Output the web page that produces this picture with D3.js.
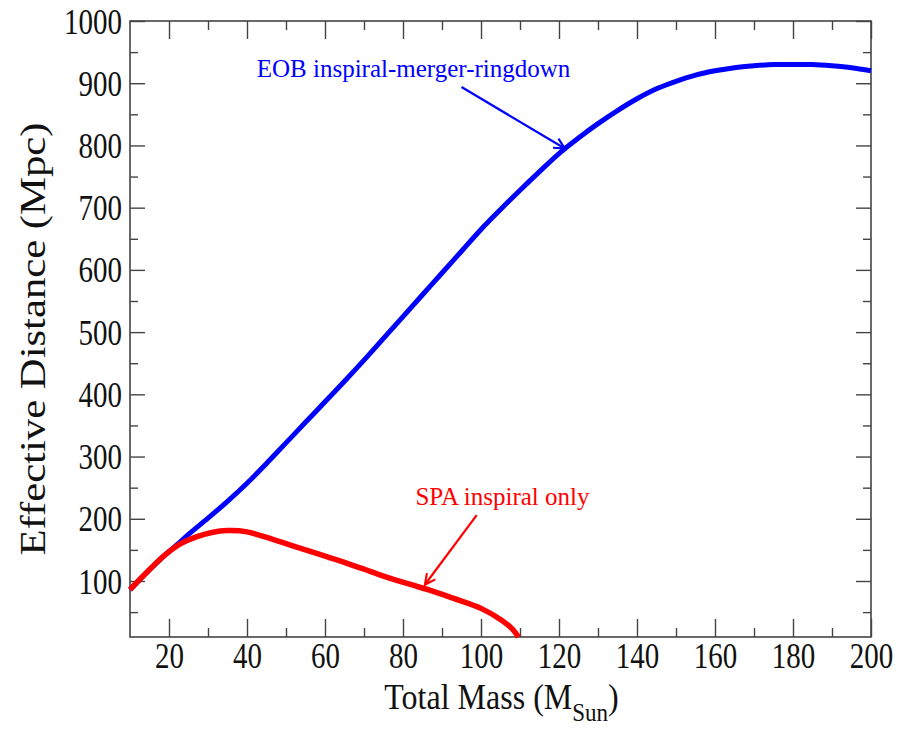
<!DOCTYPE html>
<html>
<head>
<meta charset="utf-8">
<script src="https://cdn.jsdelivr.net/npm/d3@7"></script>
<style>
  body { margin: 0; background: #fff; }
  svg text { font-family: "Liberation Serif", "DejaVu Serif", serif; }
</style>
</head>
<body>
<div id="chart"></div>
<script>
// data
var massEOB = [10, 14, 19, 22, 25, 30, 35, 40, 45, 50, 55, 60, 65, 70, 75, 80, 85, 90, 95, 100,
               105, 110, 115, 120, 125, 130, 135, 140, 145, 150, 155, 160, 165, 170, 175, 180, 185, 190, 195, 200];
var distEOB = [86, 112, 142, 158, 175, 201, 228, 257, 289, 322, 355, 388, 421, 455, 490, 525, 560, 595, 630, 665,
               697, 728, 758, 787, 812, 835, 856, 875, 891, 903, 913, 920, 925, 928, 930, 930, 930, 928, 925, 920];

var massSPA = [10, 14, 19, 23, 27, 31, 35, 40, 47, 55, 60, 64, 70, 75, 81, 87, 93, 100, 105, 108, 109.6];
var distSPA = [86, 112, 142, 160, 171, 178, 181, 179, 166, 150, 140, 132, 119, 108, 96, 85, 72, 56, 38, 23, 10];

var xTicks = [20, 40, 60, 80, 100, 120, 140, 160, 180, 200];
var xMinor = [30, 50, 70, 90, 110, 130, 150, 170, 190];
var yTicks = [100, 200, 300, 400, 500, 600, 700, 800, 900, 1000];
var yMinor = [50, 150, 250, 350, 450, 550, 650, 750, 850, 950];

var W = 907, H = 729;
var pLeft = 130, pRight = 871, pTop = 21, pBottom = 637;

var svg = d3.select("#chart").append("svg")
    .attr("width", W)
    .attr("height", H);

var x = d3.scaleLinear().domain([10, 200]).range([pLeft, pRight]);
var y = d3.scaleLinear().domain([10, 1000]).range([pBottom, pTop]);

var stretch = 1.22;   // the original picture is stretched vertically
var axisColor = "#444";

function styleAxis(g) {
    g.select(".domain").remove();
    g.selectAll("line").attr("stroke", axisColor).attr("stroke-width", 1.4);
}

// major + minor ticks, all pointing inward
svg.append("g").attr("transform", "translate(0," + pBottom + ")")
    .call(d3.axisBottom(x).tickValues(xTicks).tickSize(-18).tickFormat(""))
    .call(styleAxis);
svg.append("g").attr("transform", "translate(0," + pBottom + ")")
    .call(d3.axisBottom(x).tickValues(xMinor).tickSize(-9).tickFormat(""))
    .call(styleAxis);
svg.append("g").attr("transform", "translate(0," + pTop + ")")
    .call(d3.axisTop(x).tickValues(xTicks).tickSize(-18).tickFormat(""))
    .call(styleAxis);
svg.append("g").attr("transform", "translate(0," + pTop + ")")
    .call(d3.axisTop(x).tickValues(xMinor).tickSize(-9).tickFormat(""))
    .call(styleAxis);

svg.append("g").attr("transform", "translate(" + pLeft + ",0)")
    .call(d3.axisLeft(y).tickValues(yTicks).tickSize(-15).tickFormat(""))
    .call(styleAxis);
svg.append("g").attr("transform", "translate(" + pLeft + ",0)")
    .call(d3.axisLeft(y).tickValues(yMinor).tickSize(-8).tickFormat(""))
    .call(styleAxis);
svg.append("g").attr("transform", "translate(" + pRight + ",0)")
    .call(d3.axisRight(y).tickValues(yTicks).tickSize(-15).tickFormat(""))
    .call(styleAxis);
svg.append("g").attr("transform", "translate(" + pRight + ",0)")
    .call(d3.axisRight(y).tickValues(yMinor).tickSize(-8).tickFormat(""))
    .call(styleAxis);

// tick labels through the axes, then stretched like the original
var xLab = svg.append("g").attr("transform", "translate(0," + pBottom + ")")
    .call(d3.axisBottom(x).tickValues(xTicks).tickSize(0).tickFormat(d3.format("d")));
xLab.select(".domain").remove();
xLab.selectAll(".tick text")
    .attr("y", null).attr("dy", null)
    .attr("fill", "#111")
    .attr("font-size", 29)
    .attr("transform", "translate(0,31) scale(1," + stretch + ")");

var yLab = svg.append("g").attr("transform", "translate(" + pLeft + ",0)")
    .call(d3.axisLeft(y).tickValues(yTicks).tickSize(0).tickFormat(d3.format("d")));
yLab.select(".domain").remove();
yLab.selectAll(".tick text")
    .attr("x", null).attr("dy", null)
    .attr("fill", "#111")
    .attr("font-size", 29)
    .attr("transform", "translate(-8,12) scale(1," + stretch + ")");

// frame
svg.append("rect")
    .attr("x", pLeft).attr("y", pTop)
    .attr("width", pRight - pLeft).attr("height", pBottom - pTop)
    .attr("fill", "none")
    .attr("stroke", axisColor)
    .attr("stroke-width", 1.6);

// curves
var line = d3.line()
    .x(function(d) { return x(d[0]); })
    .y(function(d) { return y(d[1]); })
    .curve(d3.curveCatmullRom.alpha(0.5));

svg.append("path")
    .datum(d3.zip(massEOB, distEOB))
    .attr("d", line)
    .attr("fill", "none")
    .attr("stroke", "#0000ff")
    .attr("stroke-width", 5)
    .attr("stroke-linejoin", "round");

svg.append("path")
    .datum(d3.zip(massSPA, distSPA))
    .attr("d", line)
    .attr("fill", "none")
    .attr("stroke", "#ff0000")
    .attr("stroke-width", 5.5)
    .attr("stroke-linejoin", "round");

// annotations (anchored in data units)
var defs = svg.append("defs");
function arrowMarker(id, color) {
    defs.append("marker")
        .attr("id", id)
        .attr("viewBox", "0 0 10 10")
        .attr("refX", 9).attr("refY", 5)
        .attr("markerWidth", 6).attr("markerHeight", 6)
        .attr("markerUnits", "strokeWidth")
        .attr("orient", "auto")
        .append("path")
        .attr("d", "M1,1 L9,5 L1,9")
        .attr("fill", "none")
        .attr("stroke", color)
        .attr("stroke-width", 1.6);
}
arrowMarker("arrowBlue", "#0000ff");
arrowMarker("arrowRed", "#ff0000");

var eobLabel = { text: "EOB inspiral-merger-ringdown", m: 42.5, d: 910, from: [95, 894], to: [121.5, 795] };
var spaLabel = { text: "SPA inspiral only", m: 105.5, d: 222, from: [98.9, 206], to: [85.6, 94] };

svg.append("text")
    .attr("x", x(eobLabel.m)).attr("y", y(eobLabel.d))
    .attr("fill", "#0000ff")
    .attr("font-size", 25)
    .text(eobLabel.text);
svg.append("line")
    .attr("x1", x(eobLabel.from[0])).attr("y1", y(eobLabel.from[1]))
    .attr("x2", x(eobLabel.to[0])).attr("y2", y(eobLabel.to[1]))
    .attr("stroke", "#0000ff").attr("stroke-width", 2.2)
    .attr("marker-end", "url(#arrowBlue)");

svg.append("text")
    .attr("x", x(spaLabel.m)).attr("y", y(spaLabel.d))
    .attr("text-anchor", "middle")
    .attr("fill", "#ff0000")
    .attr("font-size", 25)
    .text(spaLabel.text);
svg.append("line")
    .attr("x1", x(spaLabel.from[0])).attr("y1", y(spaLabel.from[1]))
    .attr("x2", x(spaLabel.to[0])).attr("y2", y(spaLabel.to[1]))
    .attr("stroke", "#ff0000").attr("stroke-width", 2.2)
    .attr("marker-end", "url(#arrowRed)");

// axis titles
var xt = svg.append("g")
    .attr("transform", "translate(" + ((pLeft + pRight) / 2 + 1) + ",709) scale(1,1.12)")
    .append("text")
    .attr("text-anchor", "middle")
    .attr("font-size", 32)
    .attr("fill", "#111");
xt.append("tspan").text("Total Mass (M");
xt.append("tspan").attr("font-size", 23).attr("dy", 11).text("Sun");
xt.append("tspan").attr("dy", -11).text(")");

svg.append("g")
    .attr("transform", "translate(45," + ((pTop + pBottom) / 2 + 10) + ") rotate(-90) scale(" + stretch + ",1)")
    .append("text")
    .attr("text-anchor", "middle")
    .attr("font-size", 35)
    .attr("fill", "#111")
    .text("Effective Distance (Mpc)");
</script>
</body>
</html>
